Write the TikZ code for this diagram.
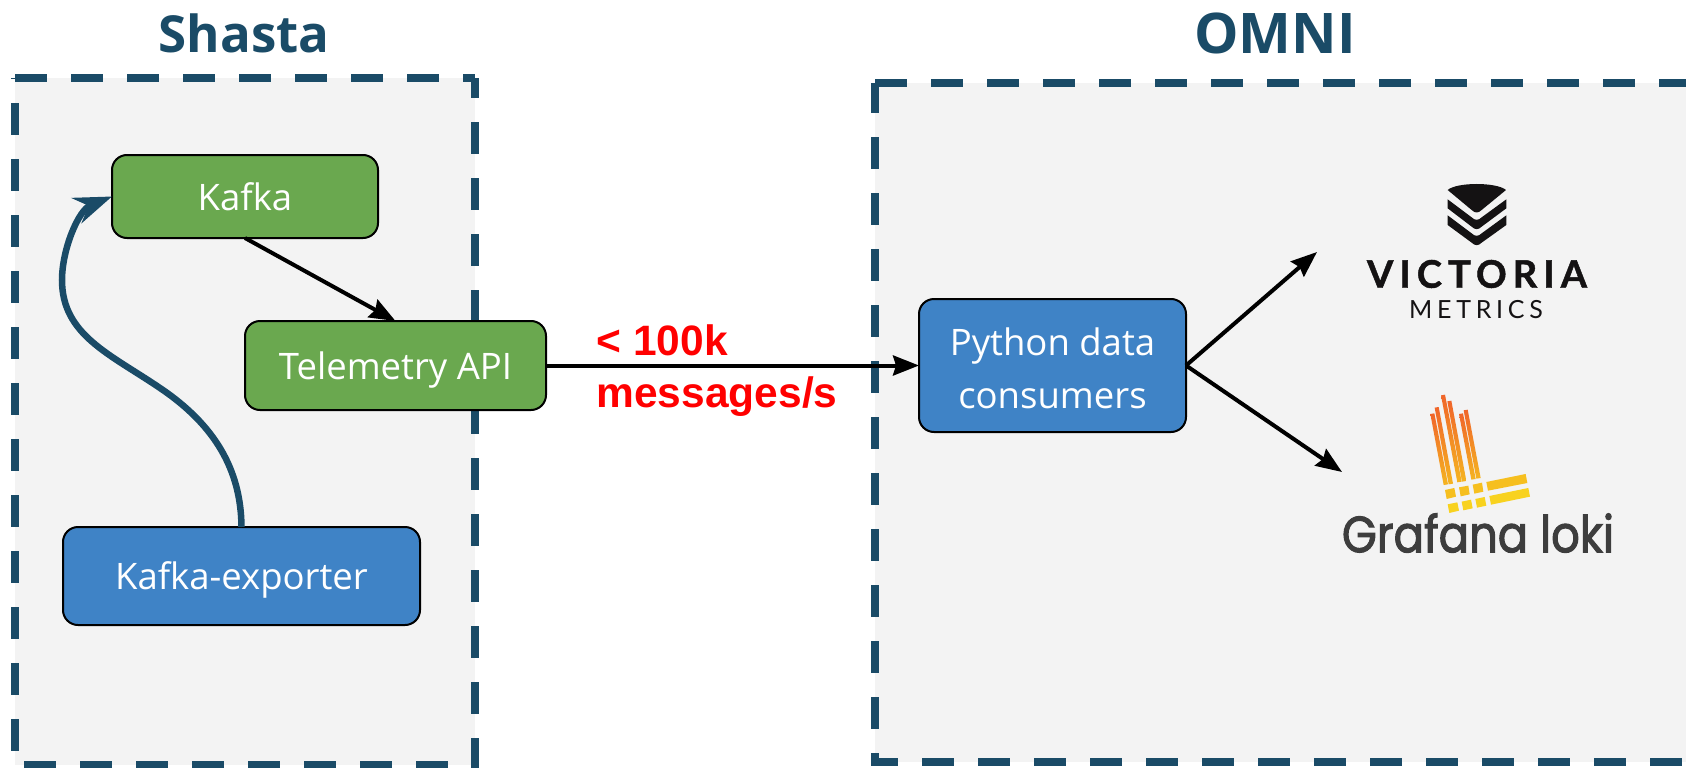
\documentclass[tikz,border=0pt]{standalone}
\usepackage{fontspec}
\usetikzlibrary{arrows.meta}
\setmainfont{Open Sans}
\newfontfamily\arialfont{Liberation Sans}
\newfontfamily\victoriafont[LetterSpace=16,BoldFeatures={FakeBold=1.2}]{Lato}
\newfontfamily\metricsfont[LetterSpace=19]{Lato}
\newfontfamily\lokifont[FakeBold=2,FakeStretch=0.88]{Poppins}
\definecolor{navy}{HTML}{1A4B67}
\definecolor{panel}{HTML}{F3F3F3}
\definecolor{leaf}{HTML}{6AA84F}
\definecolor{sky}{HTML}{3F83C6}
\definecolor{logoblack}{HTML}{141213}
\definecolor{lokigray}{HTML}{3D3D3D}
\definecolor{lokitop}{HTML}{F0652A}
\definecolor{lokibottom}{HTML}{F5B421}
\definecolor{lokirowa}{HTML}{F6BF1F}
\definecolor{lokirowb}{HTML}{F8D21F}
\tikzset{
  edgedash/.style={navy,line width=8pt,dash pattern=on 32pt off 24pt},
  box/.style={draw=black,line width=2pt,rounded corners=15pt,text=white,outer sep=0pt,
    align=center,font=\fontsize{36.5}{53}\selectfont},
  title/.style={navy,font=\fontsize{#1}{#1}\selectfont\bfseries},
  flow/.style={black,line width=4pt,-{Stealth[length=26pt,width=20pt,inset=3pt]}},
}
\begin{document}
\begin{tikzpicture}[x=1pt,y=-1pt]
 \clip (0,0) rectangle (1686,768);
 \fill[white] (0,0) rectangle (1686,768);

 % panels
 \fill[panel] (15,78) rectangle (475,765);
 \draw[edgedash] (15,78) -- (475,78);
 \draw[edgedash,dash phase=12] (475,78) -- (475,768);
 \draw[edgedash,dash phase=47] (15,765) -- (475,765);
 \draw[edgedash,dash phase=31] (15,78) -- (15,765);

 \fill[panel] (875,83) rectangle (1690,762);
 \draw[edgedash] (875,83) -- (1690,83);
 \draw[edgedash,dash phase=2] (875,83) -- (875,766);
 \draw[edgedash,dash phase=9] (875,762) -- (1690,762);

 \node[title=51] (shasta) at (244,33) {Shasta};
 \node[title=56] (omni) at (1275,33) {OMNI};

 % boxes
 \node[box,fill=leaf,minimum width=266pt,minimum height=83pt] (kafka) at (245,196.5) {Kafka};
 \node[box,fill=leaf,minimum width=301pt,minimum height=89pt,text depth=0pt] (telemetry) at (395.5,365.5) {Telemetry API};
 \node[box,fill=sky,minimum width=357pt,minimum height=98pt,text depth=0pt] (exporter) at (241.5,576) {Kafka-exporter};
 \node[box,fill=sky,minimum width=267pt,minimum height=133pt] (python) at (1052.5,365.5) {\rule{0pt}{34pt}Python data\\consumers};

 \coordinate (metricsend) at (1317,252);
 \coordinate (lokiend) at (1342,472);

 % connectors
 \draw[flow] (kafka.south) -- (telemetry.north);
 \draw[flow] (telemetry.east) -- (python.west);
 \draw[flow] (python.east) -- (metricsend);
 \draw[flow] (python.east) -- (lokiend);
 \draw[navy,line width=6.5pt,-{Stealth[length=38pt,width=27pt,inset=13pt]}] (exporter.north)
   .. controls (241,470) and (215,425) .. (160,388)
   .. controls (110,354) and (62,335) .. (62,280)
   .. controls (62,250) and (78,210) .. (kafka.west);

 \node[anchor=west,red,align=left,font=\arialfont\fontsize{42.5}{52}\selectfont\bfseries] (rate) at (593,370.5) {< 100k\\messages/s};

 % victoria metrics logo
 \begin{scope}[shift={(1300,160)},x=.3333pt,y=-.3333pt]
  \fill[logoblack] (443,90) .. controls (470,66) and (590,66) .. (618,90) -- (545,150) .. controls (535,160) and (525,160) .. (515,150) -- cycle;
  \fill[logoblack] (443,118) -- (515,172) .. controls (525,182) and (535,182) .. (545,172) -- (619,118) -- (619,145) -- (545,200) .. controls (535,210) and (525,210) .. (515,200) -- (443,145) -- cycle;
  \fill[logoblack] (443,166) -- (515,220) .. controls (525,230) and (535,230) .. (545,220) -- (619,166) -- (619,195) -- (545,248) .. controls (535,258) and (525,258) .. (515,248) -- (443,195) -- cycle;
 \end{scope}
 \node[logoblack,font=\victoriafont\fontsize{38}{38}\selectfont\bfseries] (victoria) at (1477,274) {VICTORIA};
 \node[logoblack,font=\metricsfont\fontsize{25}{25}\selectfont] (metrics) at (1476,310) {METRICS};

 % loki logo
 \begin{scope}[shift={(1400,390)},x=.3333pt,y=-.3333pt]
  \foreach \xa/\ya/\xb/\yb in {97/72/137/285,110/53/152/283,129/16/178/277,148/34/192/275,183/72/220/269,197/61/235/266}{
   \shade[top color=lokitop,bottom color=lokibottom] (\xa-6,\ya) -- (\xa+6,\ya-2) -- (\xb+7,\yb-2) -- (\xb-6,\yb) -- cycle;
  }
  \fill[lokirowa] (135,300) -- (163,294) -- (168,320) -- (140,327) -- cycle;
  \fill[lokirowa] (177,292) -- (205,287) -- (209,313) -- (182,319) -- cycle;
  \fill[lokirowa] (218,284) -- (246,278) -- (250,305) -- (223,311) -- cycle;
  \fill[lokirowa] (259,276) -- (377,252) -- (382,279) -- (264,302) -- cycle;
  \fill[lokirowb] (143,343) -- (172,337) -- (177,362) -- (148,369) -- cycle;
  \fill[lokirowb] (185,335) -- (213,329) -- (218,355) -- (190,361) -- cycle;
  \fill[lokirowb] (226,327) -- (254,321) -- (259,347) -- (231,353) -- cycle;
  \fill[lokirowb] (268,318) -- (385,294) -- (390,320) -- (273,344) -- cycle;
 \end{scope}
 \node[lokigray,font=\lokifont\fontsize{51}{51}\selectfont] (loki) at (1478,533) {Grafana loki};
\end{tikzpicture}
\end{document}
